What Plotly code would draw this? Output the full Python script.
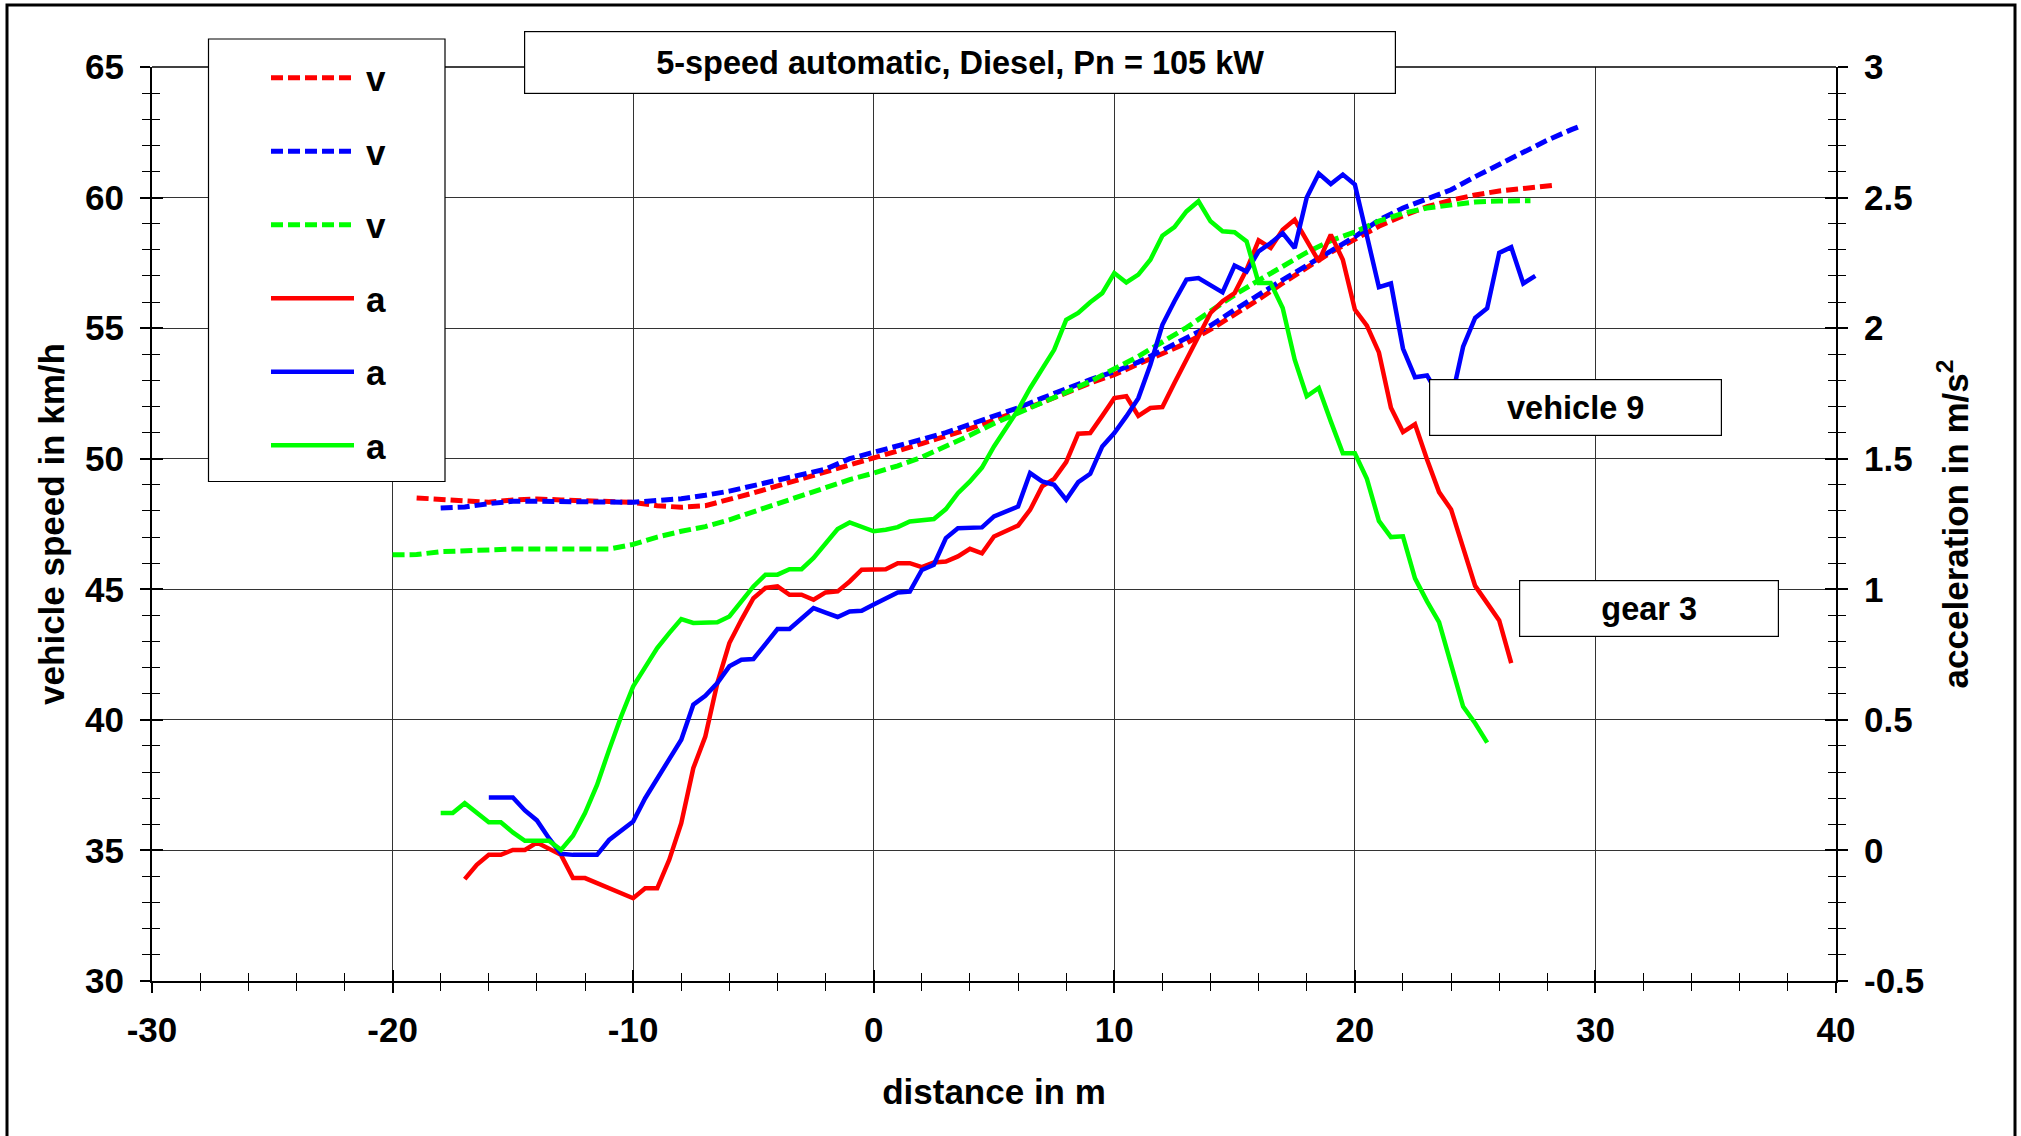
import plotly.graph_objects as go

# ---------------- data ----------------
# vehicle speed v (km/h), dashed
dist_v_red = [-19, -18, -17, -16, -15, -14, -13, -12, -11, -10, -9, -8, -7, -6, -5, -4, -3, -2, -1, 0,
              1, 2, 3, 4, 5, 6, 7, 8, 9, 10, 11, 12, 13, 14, 15, 16, 17, 18, 19, 20,
              21, 22, 23, 24, 25, 26, 27, 28, 28.3]
v_red = [48.5, 48.43, 48.36, 48.33, 48.42, 48.46, 48.42, 48.38, 48.36, 48.33, 48.2, 48.14, 48.2, 48.43, 48.69,
         48.96, 49.22, 49.5, 49.75, 50.0, 50.3, 50.58, 50.86, 51.15, 51.48, 51.8, 52.15, 52.52, 52.9, 53.22,
         53.62, 54.07, 54.43, 54.95, 55.5, 56.1, 56.72, 57.3, 57.9, 58.4, 58.9, 59.3, 59.65, 59.9, 60.1,
         60.25, 60.35, 60.45, 60.47]

dist_v_blue = [-18, -17, -16, -15, -14, -13, -12, -11, -10, -9, -8, -7, -6, -5, -4, -3, -2, -1, 0,
               1, 2, 3, 4, 5, 6, 7, 8, 9, 10, 11, 12, 13, 14, 15, 16, 17, 18, 19, 20,
               21, 22, 23, 24, 25, 26, 27, 28, 29, 29.3]
v_blue = [48.11, 48.15, 48.28, 48.37, 48.37, 48.36, 48.35, 48.34, 48.33, 48.4, 48.47, 48.6, 48.76, 48.97,
          49.17, 49.37, 49.6, 50.0, 50.25, 50.45, 50.74, 51.0, 51.3, 51.6, 51.95, 52.32, 52.68, 53.03, 53.33,
          53.7, 54.15, 54.6, 55.1, 55.7, 56.3, 56.85, 57.4, 57.95, 58.5, 59.14, 59.6, 59.95, 60.3, 60.8,
          61.27, 61.75, 62.2, 62.6, 62.71]

dist_v_green = [-20, -19, -18, -17, -16, -15, -14, -13, -12, -11, -10, -9, -8, -7, -6, -5, -4, -3, -2, -1, 0,
                1, 2, 3, 4, 5, 6, 7, 8, 9, 10, 11, 12, 13, 14, 15, 16, 17, 18, 19, 20,
                21, 22, 23, 24, 25, 26, 27, 27.3]
v_green = [46.32, 46.33, 46.44, 46.48, 46.52, 46.54, 46.54, 46.54, 46.54, 46.54, 46.72, 47.0, 47.22, 47.4,
           47.66, 47.97, 48.25, 48.55, 48.87, 49.2, 49.45, 49.73, 50.06, 50.46, 50.9, 51.35, 51.73, 52.12,
           52.54, 52.96, 53.42, 53.92, 54.47, 55.02, 55.65, 56.27, 56.83, 57.37, 57.9, 58.35, 58.68, 59.1,
           59.4, 59.6, 59.72, 59.83, 59.87, 59.88, 59.88]

# acceleration a (m/s^2), solid
dist_a_red = [-17, -16.5, -16, -15.5, -15, -14.5, -14, -13.5, -13, -12.5, -12, -11.5, -11, -10.5, -10, -9.5,
              -9, -8.5, -8, -7.5, -7, -6.5, -6, -5.5, -5, -4.5, -4, -3.5, -3, -2.5, -2, -1.5, -1, -0.5, 0,
              0.5, 1, 1.5, 2, 2.5, 3, 3.5, 4, 4.5, 5, 5.5, 6, 6.5, 7, 7.5, 8, 8.5, 9, 9.5, 10, 10.5, 11,
              11.5, 12, 12.5, 13, 13.5, 14, 14.5, 15, 15.5, 16, 16.5, 17, 17.5, 18, 18.5, 19, 19.5, 20,
              20.5, 21, 21.5, 22, 22.5, 23, 23.5, 24, 24.5, 25, 25.5, 26, 26.5]
a_red = [-0.11, -0.055, -0.017, -0.017, 0.002, 0.002, 0.03, 0.008, -0.017, -0.106, -0.106, -0.125, -0.145,
         -0.164, -0.183, -0.145, -0.145, -0.036, 0.104, 0.315, 0.436, 0.641, 0.794, 0.883, 0.966, 1.005,
         1.011, 0.979, 0.979, 0.96, 0.988, 0.992, 1.03, 1.075, 1.075, 1.077, 1.1, 1.1, 1.085, 1.103, 1.106,
         1.126, 1.155, 1.138, 1.202, 1.224, 1.244, 1.304, 1.394, 1.423, 1.487, 1.596, 1.598, 1.664, 1.732,
         1.739, 1.664, 1.694, 1.698, 1.79, 1.882, 1.974, 2.058, 2.103, 2.134, 2.224, 2.336, 2.307, 2.377,
         2.415, 2.332, 2.256, 2.358, 2.262, 2.071, 2.01, 1.907, 1.695, 1.602, 1.632, 1.497, 1.372, 1.306,
         1.16, 1.013, 0.947, 0.881, 0.717]

dist_a_blue = [-16, -15.5, -15, -14.5, -14, -13.5, -13, -12.5, -12, -11.5, -11, -10.5, -10, -9.5, -9, -8.5,
               -8, -7.5, -7, -6.5, -6, -5.5, -5, -4.5, -4, -3.5, -3, -2.5, -2, -1.5, -1, -0.5, 0, 0.5, 1,
               1.5, 2, 2.5, 3, 3.5, 4, 4.5, 5, 5.5, 6, 6.5, 7, 7.5, 8, 8.5, 9, 9.5, 10, 10.5, 11, 11.5, 12,
               12.5, 13, 13.5, 14, 14.5, 15, 15.5, 16, 16.5, 17, 17.5, 18, 18.5, 19, 19.5, 20, 20.5, 21,
               21.5, 22, 22.5, 23, 23.5, 24, 24.5, 25, 25.5, 26, 26.5, 27, 27.5]
a_blue = [0.203, 0.203, 0.203, 0.153, 0.115, 0.047, -0.013, -0.017, -0.017, -0.017, 0.04, 0.076, 0.111, 0.2,
          0.277, 0.349, 0.424, 0.558, 0.592, 0.641, 0.705, 0.73, 0.733, 0.79, 0.848, 0.848, 0.886, 0.928,
          0.911, 0.894, 0.915, 0.918, 0.942, 0.966, 0.988, 0.991, 1.074, 1.094, 1.196, 1.234, 1.234, 1.237,
          1.279, 1.298, 1.317, 1.445, 1.413, 1.4, 1.343, 1.41, 1.442, 1.547, 1.598, 1.662, 1.732, 1.86,
          2.013, 2.103, 2.186, 2.192, 2.166, 2.137, 2.24, 2.217, 2.294, 2.326, 2.364, 2.307, 2.5, 2.592,
          2.552, 2.588, 2.55, 2.354, 2.157, 2.171, 1.922, 1.812, 1.819, 1.74, 1.72, 1.929, 2.039, 2.076,
          2.288, 2.31, 2.171, 2.2]

dist_a_green = [-18, -17.5, -17, -16.5, -16, -15.5, -15, -14.5, -14, -13.5, -13, -12.5, -12, -11.5, -11,
                -10.5, -10, -9.5, -9, -8.5, -8, -7.5, -7, -6.5, -6, -5.5, -5, -4.5, -4, -3.5, -3, -2.5, -2,
                -1.5, -1, -0.5, 0, 0.5, 1, 1.5, 2, 2.5, 3, 3.5, 4, 4.5, 5, 5.5, 6, 6.5, 7, 7.5, 8, 8.5, 9,
                9.5, 10, 10.5, 11, 11.5, 12, 12.5, 13, 13.5, 14, 14.5, 15, 15.5, 16, 16.5, 17, 17.5, 18,
                18.5, 19, 19.5, 20, 20.5, 21, 21.5, 22, 22.5, 23, 23.5, 24, 24.5, 25, 25.5]
a_green = [0.143, 0.143, 0.181, 0.143, 0.108, 0.108, 0.069, 0.037, 0.037, 0.037, 0.002, 0.056, 0.143, 0.251,
           0.385, 0.513, 0.628, 0.698, 0.775, 0.832, 0.886, 0.871, 0.871, 0.874, 0.896, 0.953, 1.011, 1.056,
           1.056, 1.077, 1.077, 1.12, 1.177, 1.231, 1.256, 1.238, 1.222, 1.228, 1.238, 1.26, 1.266, 1.269,
           1.307, 1.368, 1.413, 1.466, 1.547, 1.617, 1.687, 1.77, 1.841, 1.917, 2.032, 2.058, 2.099, 2.134,
           2.211, 2.175, 2.205, 2.262, 2.354, 2.387, 2.447, 2.486, 2.409, 2.371, 2.367, 2.332, 2.173, 2.173,
           2.077, 1.879, 1.739, 1.771, 1.643, 1.521, 1.521, 1.423, 1.262, 1.2, 1.203, 1.042, 0.954, 0.874,
           0.712, 0.551, 0.487, 0.413]

x_ticks = [-30, -20, -10, 0, 10, 20, 30, 40]
v_ticks = [30, 35, 40, 45, 50, 55, 60, 65]
a_ticks = [-0.5, 0, 0.5, 1, 1.5, 2, 2.5, 3]
a_tick_text = ["-0.5", "0", "0.5", "1", "1.5", "2", "2.5", "3"]

legend_v = "\u2009v"
legend_a = "\u2009a"
title_text = "5-speed automatic, Diesel, Pn = 105 kW"
label_vehicle = "vehicle 9"
label_gear = "gear 3"

RED, BLUE, GREEN = "#FF0000", "#0000FF", "#00FF00"
FONT = "Liberation Sans, Arial, sans-serif"

W, H = 2021, 1136
L, R, T, B = 152, 1836, 67, 981   # plot area in px


def px(xp):
    return (xp - L) / (R - L)


def py(yp):
    return (B - yp) / (B - T)


fig = go.Figure()
DASH = "12px,5px"
series_v = [(dist_v_red, v_red, RED), (dist_v_blue, v_blue, BLUE), (dist_v_green, v_green, GREEN)]
series_a = [(dist_a_red, a_red, RED), (dist_a_blue, a_blue, BLUE), (dist_a_green, a_green, GREEN)]
k = 0
for d, v, c in series_v:
    fig.add_trace(go.Scatter(x=d, y=v, mode="lines", name=legend_v, legendgroup=f"g{k}",
                             line=dict(color=c, width=5, dash=DASH), yaxis="y"))
    k += 1
for d, a, c in series_a:
    fig.add_trace(go.Scatter(x=d, y=a, mode="lines", name=legend_a, legendgroup=f"g{k}",
                             line=dict(color=c, width=4.5), yaxis="y2"))
    k += 1

# invisible helpers so that the inner-tick axes are drawn
fig.add_trace(go.Scatter(x=[None], y=[None], xaxis="x2", yaxis="y", showlegend=False, hoverinfo="skip"))
fig.add_trace(go.Scatter(x=[None], y=[None], xaxis="x", yaxis="y3", showlegend=False, hoverinfo="skip"))
fig.add_trace(go.Scatter(x=[None], y=[None], xaxis="x", yaxis="y4", showlegend=False, hoverinfo="skip"))

tickfont = dict(family=FONT, size=35, color="black", weight="bold")
titlefont = dict(family=FONT, size=35, color="black", weight="bold")
GRID = "#333333"

fig.update_layout(
    width=W, height=H,
    margin=dict(l=L, r=W - R, t=T, b=H - B, pad=0),
    paper_bgcolor="white", plot_bgcolor="white",
    font=dict(family=FONT, color="black"),
    showlegend=True,
    legend=dict(x=px(266), y=py(48.5), xanchor="left", yanchor="top",
                bgcolor="rgba(0,0,0,0)", borderwidth=0,
                font=dict(family=FONT, size=35, color="black", weight="bold"),
                tracegroupgap=25, itemwidth=83, traceorder="grouped"),
    xaxis=dict(range=[-30, 40], tickvals=x_ticks, ticktext=[str(t) for t in x_ticks],
               showgrid=True, gridcolor=GRID, gridwidth=1, zeroline=False, automargin=False,
               showline=True, linecolor="black", linewidth=2, mirror=False,
               ticks="outside", ticklen=10, tickwidth=1.5, tickcolor="black",
               minor=dict(dtick=2, ticks="outside", ticklen=8, tickwidth=1, tickcolor="black", showgrid=False),
               tickfont=tickfont, ticklabelstandoff=7,
               title=dict(text="distance in m", font=titlefont, standoff=31)),
    xaxis2=dict(overlaying="x", matches="x", anchor="y", side="bottom", range=[-30, 40], automargin=False,
                tickvals=x_ticks, showticklabels=False, showgrid=False, zeroline=False, showline=False,
                ticks="inside", ticklen=11, tickwidth=1.5, tickcolor="black",
                minor=dict(dtick=2, ticks="inside", ticklen=8, tickwidth=1, tickcolor="black", showgrid=False)),
    yaxis=dict(range=[30, 65], tickvals=v_ticks, ticktext=[str(t) for t in v_ticks],
               showgrid=True, gridcolor=GRID, gridwidth=1, zeroline=False, automargin=False,
               showline=True, linecolor="black", linewidth=2,
               ticks="outside", ticklen=10, tickwidth=1.5, tickcolor="black",
               minor=dict(dtick=1, ticks="outside", ticklen=8, tickwidth=1, tickcolor="black", showgrid=False),
               tickfont=tickfont, ticklabelstandoff=9,
               title=dict(text="vehicle speed in km/h", font=titlefont, standoff=10)),
    yaxis3=dict(overlaying="y", matches="y", anchor="x", side="left", range=[30, 65], automargin=False,
                tickvals=v_ticks, showticklabels=False, showgrid=False, zeroline=False, showline=False,
                ticks="inside", ticklen=11, tickwidth=1.5, tickcolor="black",
                minor=dict(dtick=1, ticks="inside", ticklen=8, tickwidth=1, tickcolor="black", showgrid=False)),
    yaxis2=dict(overlaying="y", anchor="x", side="right", range=[-0.5, 3],
                tickvals=a_ticks, ticktext=a_tick_text, automargin=False,
                showgrid=False, zeroline=False,
                showline=True, linecolor="black", linewidth=2,
                ticks="outside", ticklen=10, tickwidth=1.5, tickcolor="black",
                minor=dict(dtick=0.1, ticks="outside", ticklen=8, tickwidth=1, tickcolor="black", showgrid=False),
                tickfont=tickfont, ticklabelstandoff=9,
                title=dict(text="acceleration in m/s<sup>2</sup>", font=titlefont, standoff=20)),
    yaxis4=dict(overlaying="y", anchor="x", side="right", range=[-0.5, 3], automargin=False,
                tickvals=a_ticks, showticklabels=False, showgrid=False, zeroline=False, showline=False,
                ticks="inside", ticklen=11, tickwidth=1.5, tickcolor="black",
                minor=dict(dtick=0.1, ticks="inside", ticklen=8, tickwidth=1, tickcolor="black", showgrid=False)),
)

# outer frame, top plot border, legend box
fig.add_shape(type="rect", xref="paper", yref="paper", x0=px(7), x1=px(2015), y0=py(1160), y1=py(5),
              line=dict(color="black", width=3), fillcolor="rgba(0,0,0,0)", layer="below")
fig.add_shape(type="line", xref="paper", yref="paper", x0=0, x1=1, y0=1, y1=1,
              line=dict(color="black", width=1.5), layer="above")
fig.add_shape(type="rect", xref="paper", yref="paper", x0=px(208.5), x1=px(445), y0=py(481.5), y1=py(39),
              line=dict(color="black", width=1.2), fillcolor="white", layer="above")

box_font = dict(family=FONT, size=32.5, color="black", weight="bold")
fig.add_annotation(xref="paper", yref="paper", x=px(960), y=py(62.5), xanchor="center", yanchor="middle",
                   text=title_text, showarrow=False, font=box_font, bgcolor="white",
                   bordercolor="black", borderwidth=1.2, borderpad=0, width=870, height=61)
fig.add_annotation(xref="paper", yref="paper", x=px(1575.5), y=py(407.5), xanchor="center", yanchor="middle",
                   text=label_vehicle, showarrow=False, font=box_font, bgcolor="white",
                   bordercolor="black", borderwidth=1.2, borderpad=0, width=291, height=55)
fig.add_annotation(xref="paper", yref="paper", x=px(1649), y=py(608.5), xanchor="center", yanchor="middle",
                   text=label_gear, showarrow=False, font=box_font, bgcolor="white",
                   bordercolor="black", borderwidth=1.2, borderpad=0, width=258, height=55)

# remove the default page margin so the figure sits at the window origin
fig.write_html("out.html", config={"displayModeBar": False},
               post_script="document.body.style.margin='0px';")
